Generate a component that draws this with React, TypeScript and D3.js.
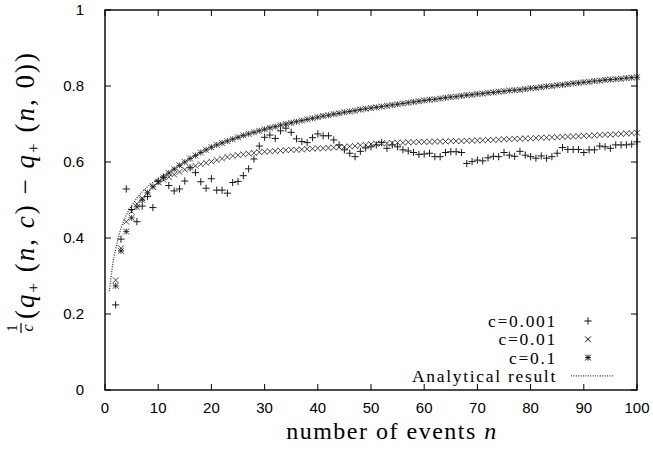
import * as d3 from "d3";

const W = 653;
const H = 452;
const MARGIN = { top: 10, right: 16, bottom: 62, left: 105 };

// n = 2 .. 100
const eventCounts = d3.range(2, 101);

// c = 0.001  (+)
const seriesC0001 = [
  0.224, 0.397, 0.529, 0.475, 0.443, 0.484, 0.509, 0.48, 0.55, 0.56,
  0.538, 0.524, 0.529, 0.55, 0.585, 0.572, 0.548, 0.531, 0.556, 0.526,
  0.526, 0.518, 0.546, 0.549, 0.564, 0.582, 0.608, 0.642, 0.665, 0.671,
  0.662, 0.682, 0.689, 0.678, 0.661, 0.654, 0.651, 0.664, 0.674, 0.669,
  0.669, 0.658, 0.645, 0.632, 0.623, 0.614, 0.628, 0.637, 0.64, 0.645,
  0.651, 0.636, 0.645, 0.64, 0.632, 0.629, 0.625, 0.62, 0.621, 0.623,
  0.614, 0.614, 0.625, 0.627, 0.627, 0.625, 0.596, 0.601, 0.605, 0.603,
  0.611, 0.615, 0.614, 0.625, 0.618, 0.615, 0.628, 0.618, 0.614, 0.61,
  0.616, 0.61, 0.614, 0.623, 0.638, 0.633, 0.633, 0.633, 0.625, 0.632,
  0.632, 0.642, 0.64, 0.636, 0.645, 0.645, 0.645, 0.647, 0.653,
];

// c = 0.01  (x)
const seriesC001 = [
  0.289, 0.373, 0.443, 0.47, 0.49, 0.505, 0.52, 0.535, 0.546, 0.553,
  0.56, 0.567, 0.574, 0.58, 0.585, 0.59, 0.594, 0.598, 0.601, 0.605,
  0.609, 0.613, 0.616, 0.618, 0.62, 0.622, 0.624, 0.626, 0.627, 0.628,
  0.629, 0.63, 0.631, 0.632, 0.632, 0.633, 0.634, 0.635, 0.636, 0.636,
  0.637, 0.638, 0.639, 0.64, 0.641, 0.642, 0.644, 0.645, 0.647, 0.648,
  0.649, 0.649, 0.65, 0.651, 0.651, 0.652, 0.652, 0.653, 0.653, 0.653,
  0.654, 0.654, 0.654, 0.655, 0.655, 0.655, 0.656, 0.656, 0.657, 0.657,
  0.658, 0.658, 0.659, 0.66, 0.66, 0.661, 0.661, 0.662, 0.662, 0.663,
  0.664, 0.664, 0.665, 0.665, 0.666, 0.667, 0.667, 0.668, 0.669, 0.669,
  0.67, 0.671, 0.672, 0.672, 0.673, 0.674, 0.675, 0.676, 0.677,
];

// c = 0.1  (*)
const seriesC01 = [
  0.274, 0.366, 0.417, 0.453, 0.482, 0.5, 0.519, 0.535, 0.548, 0.56,
  0.571, 0.581, 0.591, 0.6, 0.609, 0.617, 0.625, 0.632, 0.639, 0.645,
  0.65, 0.655, 0.66, 0.665, 0.67, 0.674, 0.678, 0.682, 0.686, 0.69,
  0.693, 0.697, 0.7, 0.703, 0.706, 0.709, 0.712, 0.715, 0.718, 0.721,
  0.723, 0.726, 0.728, 0.731, 0.733, 0.735, 0.738, 0.74, 0.742, 0.744,
  0.746, 0.748, 0.75, 0.752, 0.754, 0.756, 0.758, 0.76, 0.762, 0.764,
  0.765, 0.767, 0.769, 0.771, 0.772, 0.774, 0.776, 0.777, 0.779, 0.78,
  0.782, 0.783, 0.785, 0.786, 0.788, 0.789, 0.79, 0.792, 0.794, 0.795,
  0.797, 0.799, 0.8, 0.802, 0.803, 0.805, 0.807, 0.808, 0.81, 0.811,
  0.813, 0.814, 0.816, 0.817, 0.818, 0.819, 0.821, 0.822, 0.823,
];

// analytical result (dotted)
const analyticN = [0.8, 1, 1.25, 1.5, 2, 2.5, 3, 4, 5, 6, 8, 10, 12, 15, 20, 25, 30, 40, 50, 60, 70, 80, 90, 100];
const analyticV = [0.26, 0.28, 0.31, 0.335, 0.37, 0.4, 0.425, 0.46, 0.485, 0.505, 0.535, 0.555, 0.573, 0.6, 0.639, 0.665, 0.686, 0.718, 0.742, 0.762, 0.779, 0.794, 0.81, 0.823];

const xTicks = [0, 10, 20, 30, 40, 50, 60, 70, 80, 90, 100];
const yTicks = [0, 0.2, 0.4, 0.6, 0.8, 1];
const yTickLabels = ["0", "0.2", "0.4", "0.6", "0.8", "1"];

const legendLabels = ["c=0.001", "c=0.01", "c=0.1", "Analytical result"];

const SERIF = "'Liberation Serif', 'DejaVu Serif', serif";
const SANS = "'Liberation Sans', Arial, sans-serif";

const markerPath = (kind: string, x: number, y: number) => {
  const p = 3.6;
  const c = 2.9;
  const plus = `M${x - p},${y}H${x + p}M${x},${y - p}V${y + p}`;
  const cross = `M${x - c},${y - c}L${x + c},${y + c}M${x - c},${y + c}L${x + c},${y - c}`;
  if (kind === "plus") return plus;
  if (kind === "cross") return cross;
  const s = 3;
  return `M${x - s},${y}H${x + s}M${x},${y - s}V${y + s}` + cross;
};

const series = [
  { kind: "plus", values: seriesC0001 },
  { kind: "cross", values: seriesC001 },
  { kind: "star", values: seriesC01 },
];

export default function App() {
  const x = d3.scaleLinear().domain([0, 100]).range([MARGIN.left, W - MARGIN.right]);
  const y = d3.scaleLinear().domain([0, 1]).range([H - MARGIN.bottom, MARGIN.top]);
  const x0 = x(0), x1 = x(100), y0 = y(0), y1 = y(1);

  const analyticLine = d3
    .line<number>()
    .x((_, i) => x(analyticN[i]))
    .y((d) => y(d))
    .curve(d3.curveMonotoneX)(analyticV);

  const tick = 6;
  const legendX = 557;
  const legendSym = 588;
  const legendY0 = 327;

  return (
    <svg width={W} height={H} style={{ position: "absolute", left: 0, top: 0, background: "#fff" }}>
      <rect width={W} height={H} fill="#fff" />

      {/* ticks */}
      {xTicks.map((t) => (
        <g key={"x" + t}>
          <line x1={x(t)} x2={x(t)} y1={y0} y2={y0 - tick} stroke="#000" strokeWidth={1} />
          <line x1={x(t)} x2={x(t)} y1={y1} y2={y1 + tick} stroke="#000" strokeWidth={1} />
          <text x={x(t)} y={413} textAnchor="middle" fontFamily={SANS} fontSize={15}>
            {t}
          </text>
        </g>
      ))}
      {yTicks.map((t, i) => (
        <g key={"y" + t}>
          <line x1={x0} x2={x0 + tick} y1={y(t)} y2={y(t)} stroke="#000" strokeWidth={1} />
          <line x1={x1} x2={x1 - tick} y1={y(t)} y2={y(t)} stroke="#000" strokeWidth={1} />
          <text x={84} y={y(t) + 5} textAnchor="end" fontFamily={SANS} fontSize={15}>
            {yTickLabels[i]}
          </text>
        </g>
      ))}

      {/* analytical curve */}
      <path d={analyticLine ?? ""} fill="none" stroke="#333" strokeWidth={1.3} strokeDasharray="1 1.4" />

      {/* data points */}
      {series.map((s) => (
        <path
          key={s.kind}
          d={s.values.map((v, i) => markerPath(s.kind, x(eventCounts[i]), y(v))).join("")}
          fill="none"
          stroke="#1a1a1a"
          strokeWidth={1}
          strokeOpacity={s.kind === "plus" ? 1 : 0.8}
        />
      ))}

      {/* frame */}
      <rect x={x0} y={y1} width={x1 - x0} height={y0 - y1} fill="none" stroke="#000" strokeWidth={1.4} />

      {/* legend */}
      {legendLabels.map((lab, i) => {
        const ly = legendY0 + i * 18.3;
        return (
          <g key={lab}>
            <text x={legendX} y={ly} textAnchor="end" fontFamily={SERIF} fontSize={17.5} letterSpacing={1.7}>
              {lab}
            </text>
            {i < 3 ? (
              <path d={markerPath(series[i].kind, legendSym, ly - 6)} fill="none" stroke="#111" strokeWidth={1} />
            ) : (
              <line x1={571} x2={613} y1={ly - 6} y2={ly - 6} stroke="#333" strokeWidth={1.3} strokeDasharray="1 1.4" />
            )}
          </g>
        );
      })}

      {/* x label */}
      <text x={392} y={439} textAnchor="middle" fontFamily={SERIF} fontSize={24} letterSpacing={1.5}>
        number of events <tspan fontStyle="italic">n</tspan>
      </text>

      {/* y label */}
      <g transform="translate(24,192) rotate(-90)" fontFamily={SERIF}>
        <text x={-136} y={-7} fontSize={15} textAnchor="middle">1</text>
        <line x1={-141} x2={-131} y1={-3} y2={-3} stroke="#000" strokeWidth={1.2} />
        <text x={-136} y={9} fontSize={16} fontStyle="italic" textAnchor="middle">c</text>
        <text x={-127} y={10} fontSize={27} letterSpacing={2}>
          (<tspan fontStyle="italic">q</tspan>
          <tspan fontSize={17} dy={5}>+</tspan>
          <tspan dy={-5}> (</tspan>
          <tspan fontStyle="italic">n</tspan>, <tspan fontStyle="italic">c</tspan>) − <tspan fontStyle="italic">q</tspan>
          <tspan fontSize={17} dy={5}>+</tspan>
          <tspan dy={-5}> (</tspan>
          <tspan fontStyle="italic">n</tspan>, 0))
        </text>
      </g>
    </svg>
  );
}
